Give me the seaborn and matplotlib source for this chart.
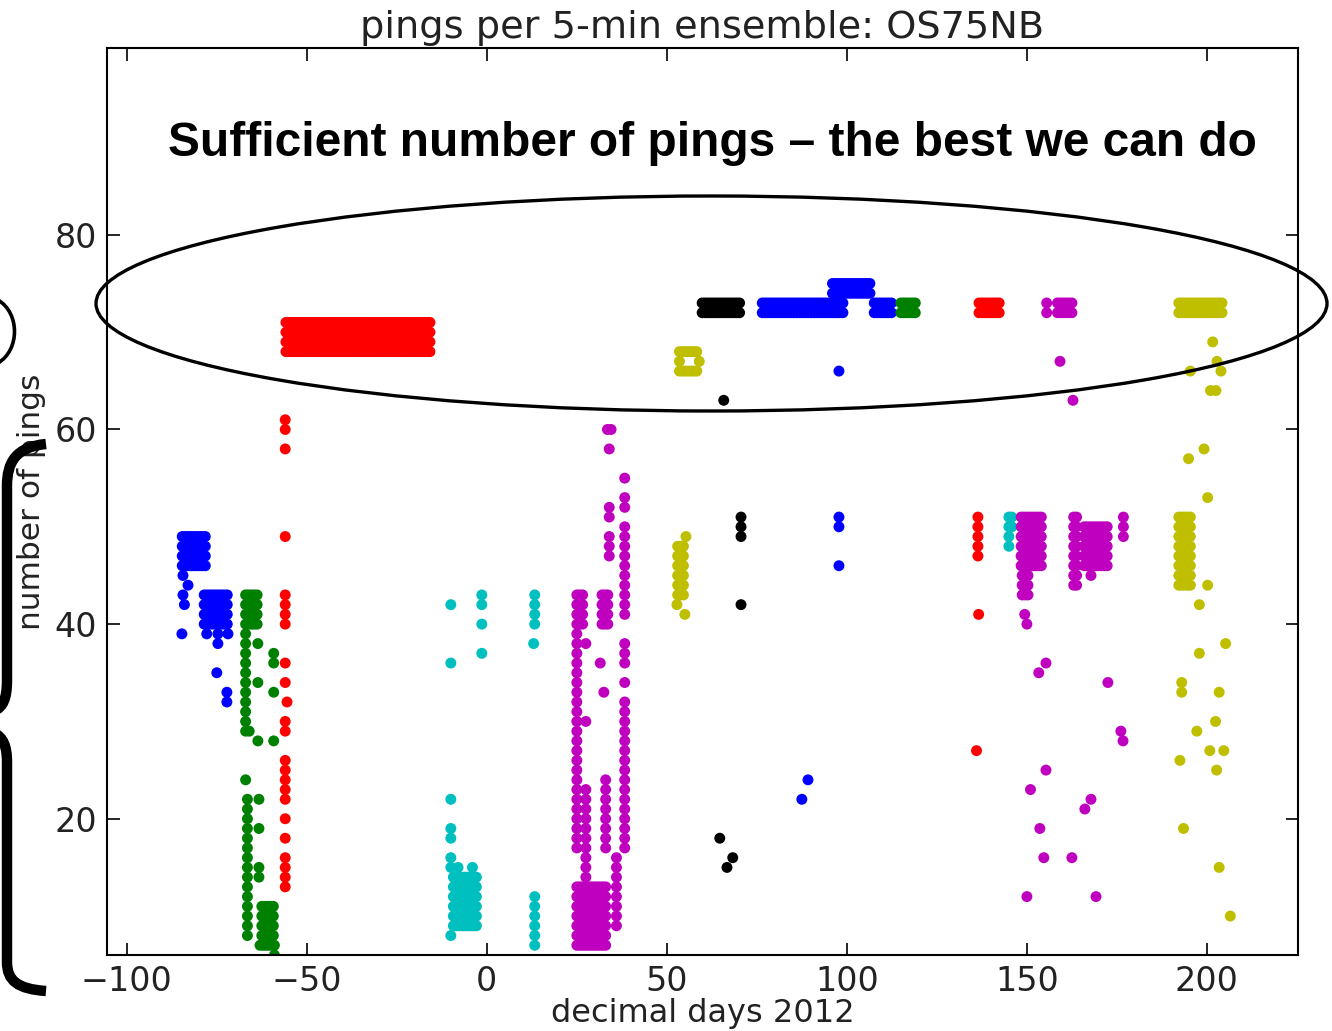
import numpy as np
import pandas as pd
import matplotlib
matplotlib.use("Agg")
import matplotlib.pyplot as plt
import seaborn as sns
from matplotlib.patches import Ellipse, PathPatch
from matplotlib.path import Path

# ---------------- data (decimal days 2012, pings per ensemble) ----------------
# blocks: (x_start, x_end, y_low, y_high) -> dense runs of ensembles at integer ping counts
seg_colors = ["b", "g", "r", "c", "m", "y", "k", "b", "g", "r", "c", "m", "y"]

blue1_blocks = [(-84.6, -78.2, 46, 49), (-78.5, -72, 40, 43)]
blue1_x = [-84.4, -83, -84.4, -84, -84.7, -77.8, -74.7, -71.9, -74.7, -75, -72.2, -72.2]
blue1_y = [45, 44, 43, 42, 39, 39, 39, 39, 38, 35, 33, 32]

green1_blocks = [(-67, -63.5, 40, 43), (-62.5, -59.3, 8, 11), (-67, -67, 29, 39),
                 (-66.5, -66.5, 8, 22), (-63, -59, 7, 7)]
green1_x = [-63.6, -63.6, -63.6, -59.2, -59.2, -59.2, -59.2, -66, -63.3, -63.3, -63.3, -63.3, -67, -59]
green1_y = [38, 34, 28, 37, 36, 33, 28, 29, 22, 19, 15, 14, 24, 6]

red1_blocks = [(-55.8, -15.2, 68, 71), (-56, -56, 40, 43), (-56, -56, 22, 26), (-56, -56, 13, 16)]
red1_x = [-56, -56, -56, -56, -56, -56, -55.5, -56, -56, -56, -56]
red1_y = [61, 60, 58, 49, 36, 34, 32, 30, 29, 20, 18]

cyan1_blocks = [(-9.3, -2.2, 14, 14), (-9.3, -2.2, 9, 13), (13.3, 13.3, 7, 12), (13.3, 13.3, 40, 43)]
cyan1_x = [-10, -10, -1.4, -1.4, -1.4, -1.4, 13, -10, -10, -10, -10, -10, -8, -4, -10]
cyan1_y = [42, 36, 43, 42, 40, 37, 38, 22, 19, 18, 16, 15, 15, 15, 8]

mag1_blocks = [(25, 27, 40, 43), (32, 34, 40, 43), (25, 33.5, 8, 13), (25, 33, 7, 7),
               (25, 25, 17, 39), (27.5, 27.5, 14, 23), (33, 33, 17, 24), (38.3, 38.3, 17, 32),
               (38.3, 38.3, 41, 50), (36, 36, 9, 16), (34, 34, 47, 49)]
mag1_x = [33.5, 34.5, 34, 38.3, 38.3, 38.3, 34, 34, 38.3, 38.3, 38.3, 38.3, 31.5, 32.5, 27.5, 27.5]
mag1_y = [60, 60, 58, 55, 53, 52, 52, 51, 38, 37, 36, 34, 36, 33, 38, 30]

yel1_blocks = [(53.5, 59, 68, 68), (53.5, 59, 66, 66), (53, 55, 43, 48)]
yel1_x = [53.5, 59, 55.3, 52.8, 55]
yel1_y = [67, 67, 49, 42, 41]

black1_blocks = [(59.8, 70.5, 72, 73)]
black1_x = [65.8, 70.6, 70.6, 70.6, 70.6, 64.7, 68.3, 66.7]
black1_y = [63, 51, 50, 49, 42, 18, 16, 15]

blue2_blocks = [(76.5, 99, 72, 73), (96, 107, 74, 75), (107.6, 112.7, 72, 73)]
blue2_x = [97.8, 97.8, 97.8, 97.8, 89.2, 87.5]
blue2_y = [66, 51, 50, 46, 24, 22]

green2_blocks = [(115, 119.6, 72, 73)]
green2_x, green2_y = [], []

red2_blocks = [(136.7, 142.7, 72, 73), (136.4, 136.4, 47, 51)]
red2_x = [136.6, 136]
red2_y = [41, 27]

cyan2_blocks = [(145, 145.8, 50, 51), (145, 145, 48, 49)]
cyan2_x, cyan2_y = [], []

mag2_blocks = [(155.5, 155.5, 72, 73), (158.5, 163, 72, 73), (148.4, 154.6, 46, 51),
               (148.7, 151, 43, 45), (163, 164, 44, 51), (165.9, 172.4, 46, 50),
               (176.8, 176.8, 49, 51)]
mag2_x = [159.2, 162.8, 167.8, 149.4, 150, 155.3, 153.3, 172.5, 176.1, 176.7, 155.3, 151,
          167.8, 166.1, 153.6, 154.7, 162.5, 150, 169.2]
mag2_y = [67, 63, 45, 41, 40, 36, 35, 34, 29, 28, 25, 23, 22, 21, 19, 16, 16, 12, 12]

yel2_blocks = [(192.2, 204.8, 72, 73), (192.2, 195.8, 44, 51)]
yel2_x = [201.6, 202.8, 203.9, 195.4, 201, 202.5, 199.2, 194.9, 200.2, 200.2, 197.9, 205.2,
          197.9, 193, 193, 203.4, 202.4, 197.2, 200.8, 204.7, 192.5, 202.7, 193.5, 203.4, 206.5]
yel2_y = [69, 67, 66, 66, 64, 64, 58, 57, 53, 44, 42, 38, 37, 34, 33, 33, 30, 29, 27, 27,
          26, 25, 19, 15, 10]

segments = [
    (blue1_blocks, blue1_x, blue1_y), (green1_blocks, green1_x, green1_y),
    (red1_blocks, red1_x, red1_y), (cyan1_blocks, cyan1_x, cyan1_y),
    (mag1_blocks, mag1_x, mag1_y), (yel1_blocks, yel1_x, yel1_y),
    (black1_blocks, black1_x, black1_y), (blue2_blocks, blue2_x, blue2_y),
    (green2_blocks, green2_x, green2_y), (red2_blocks, red2_x, red2_y),
    (cyan2_blocks, cyan2_x, cyan2_y), (mag2_blocks, mag2_x, mag2_y),
    (yel2_blocks, yel2_x, yel2_y),
]

rows = []
for i, (blocks, xs, ys) in enumerate(segments):
    for (x0, x1, y0, y1) in blocks:
        xv = np.arange(x0, x1 + 1e-6, 0.8) if x1 > x0 else np.array([x0])
        for yy in range(int(y0), int(y1) + 1):
            for xx in xv:
                rows.append((xx, yy, i))
    for xx, yy in zip(xs, ys):
        rows.append((xx, yy, i))
df = pd.DataFrame(rows, columns=["day", "pings", "seg"])

classic = {"b": (0, 0, 1), "g": (0, 0.5, 0), "r": (1, 0, 0), "c": (0, 0.75, 0.75),
           "m": (0.75, 0, 0.75), "y": (0.75, 0.75, 0), "k": (0, 0, 0)}
palette = {i: classic[c] for i, c in enumerate(seg_colors)}

# ---------------- figure ----------------
sns.set_style("ticks")
plt.rcParams["font.family"] = ["DejaVu Sans"]
W, H = 1332, 1031
fig = plt.figure(figsize=(W / 100, H / 100), dpi=100)
ax = fig.add_axes([107 / W, 1 - 955 / H, (1298 - 107) / W, (955 - 48) / H])

sns.scatterplot(data=df, x="day", y="pings", hue="seg", palette=palette, s=62,
                linewidth=0, legend=False, ax=ax, alpha=1)

ax.set_xlim(-105.5, 225.3)
ax.set_ylim(6.0, 99.2)
ax.set_xticks([-100, -50, 0, 50, 100, 150, 200])
ax.set_xticklabels(["\u2212100", "\u221250", "0", "50", "100", "150", "200"])
ax.set_yticks([20, 40, 60, 80])
ax.tick_params(direction="in", length=9, width=1.2, top=True, right=True,
               labelsize=24, pad=7, colors="black", labelcolor="#222222")
for sp in ax.spines.values():
    sp.set_linewidth(1.5)
    sp.set_color("black")
ax.set_xlabel("decimal days 2012", fontsize=23, labelpad=0, color="#222222")
ax.set_ylabel("number of pings", fontsize=22.5, labelpad=6, color="#222222")
ax.set_title("pings per 5-min ensemble: OS75NB", fontsize=27.5, pad=7, color="#222222")

# annotation text and ellipse
fig.text(712 / W, 1 - 143 / H, "Sufficient number of pings \u2013 the best we can do",
         ha="center", va="center", fontsize=34.5, fontweight="bold",
         family=["Liberation Sans", "DejaVu Sans"], color="black")
ell = Ellipse((711.5 / W, 1 - 303.5 / H), 1231 / W, 215 / H, transform=fig.transFigure,
              fill=False, edgecolor="black", linewidth=2.4, zorder=10)
fig.add_artist(ell)


def fig_path(verts, codes, lw):
    v = [(x / W, 1 - y / H) for x, y in verts]
    p = PathPatch(Path(v, codes), transform=fig.transFigure, fill=False,
                  edgecolor="black", linewidth=lw, zorder=10, capstyle="butt")
    fig.add_artist(p)


C = Path.CURVE4
fig_path([(-2, 300), (20, 313), (20, 350), (-2, 363)], [Path.MOVETO, C, C, C], 2.6)
fig_path([(46, 444), (16, 447), (7, 462), (7, 486), (7, 680), (7, 699), (3, 707), (-6, 711)],
         [Path.MOVETO, C, C, C, Path.LINETO, C, C, C], 7.5)
fig_path([(-6, 733), (3, 737), (7, 746), (7, 762), (7, 962), (7, 981), (18, 989), (46, 991)],
         [Path.MOVETO, C, C, C, Path.LINETO, C, C, C], 7.5)

fig.savefig("out.png", dpi=100)
